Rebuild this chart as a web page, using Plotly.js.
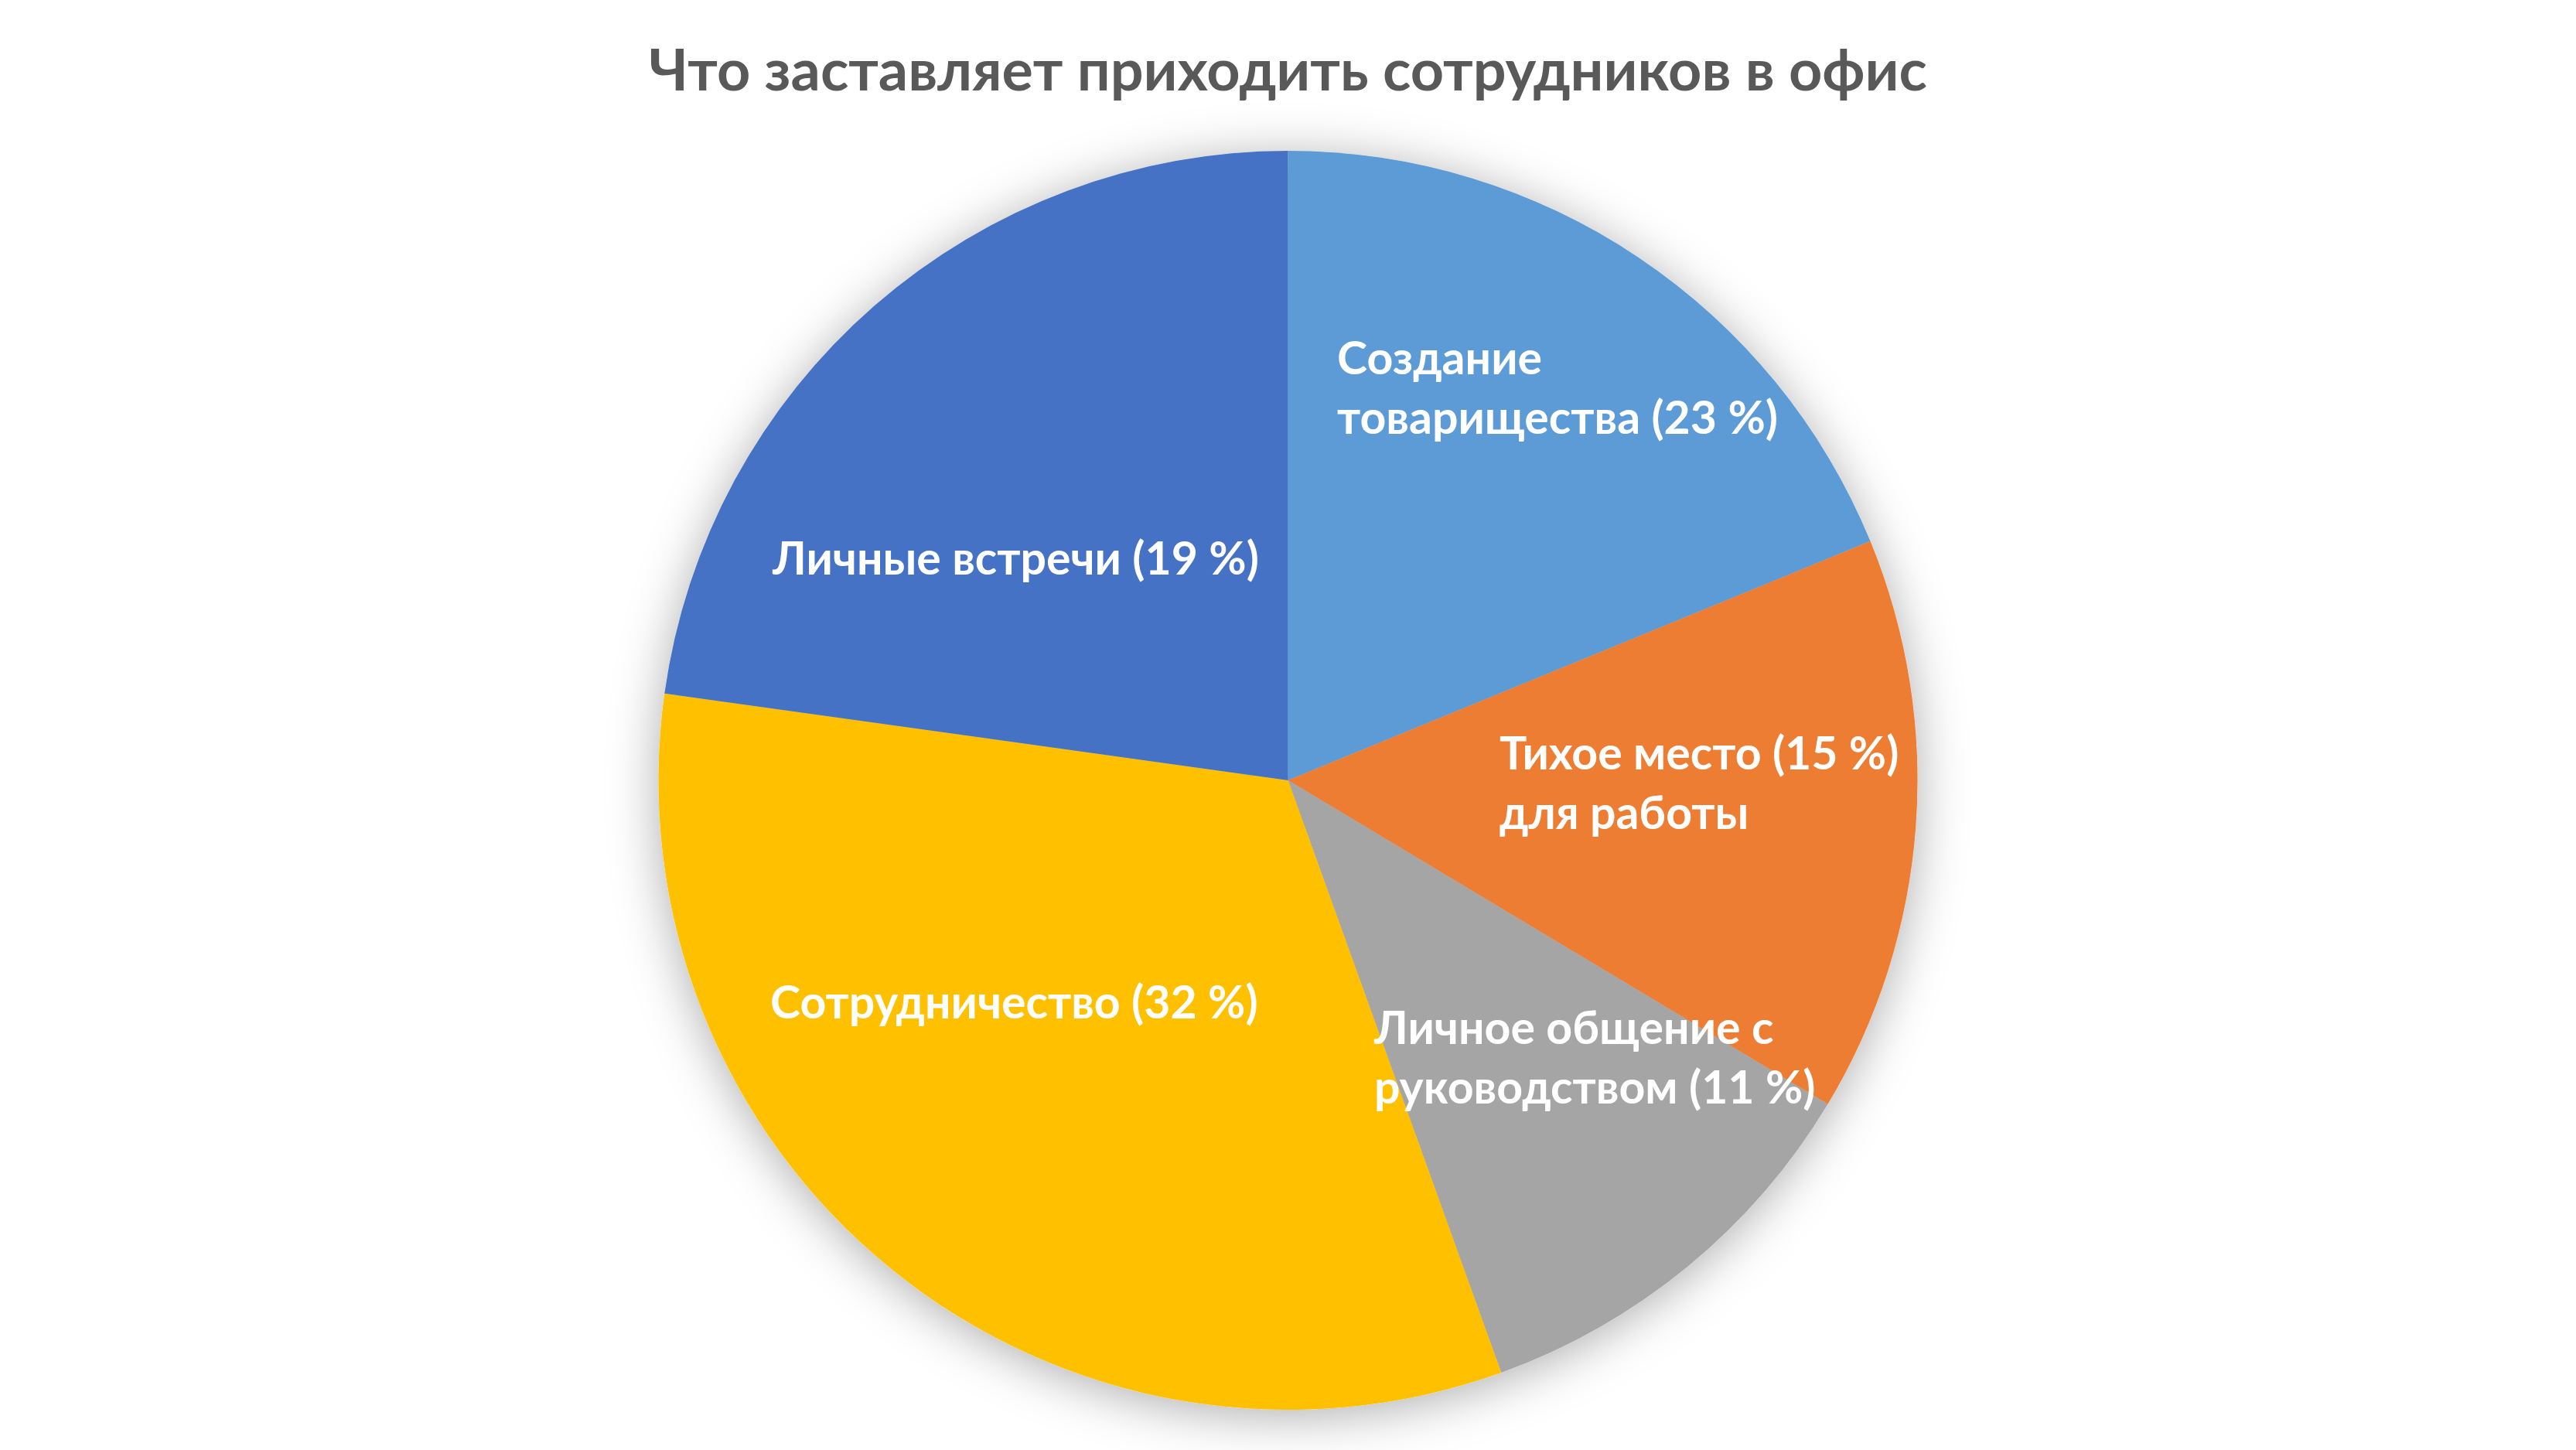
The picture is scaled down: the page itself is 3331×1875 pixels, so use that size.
<!DOCTYPE html>
<html>
<head>
<meta charset="utf-8">
<script src="https://cdn.plot.ly/plotly-3.0.1.min.js"></script>
<style>
html,body{margin:0;padding:0;background:#fff;}
#chart{width:3331px;height:1875px;}
</style>
</head>
<body>
<div id="chart"></div>
<script>
// ---- data ----
const categories = [
  "Создание товарищества",
  "Тихое место для работы",
  "Личное общение с руководством",
  "Сотрудничество",
  "Личные встречи"
];
const values = [18.8, 14.8, 10.9, 32.7, 22.8];
const labelTexts = [
  "Создание<br>товарищества (23 %)",
  "Тихое место (15 %)<br>для работы",
  "Личное общение с<br>руководством (11 %)",
  "Сотрудничество (32 %)",
  "Личные встречи (19 %)"
];
const colors = ["#5B9BD5", "#ED7D31", "#A5A5A5", "#FFC000", "#4472C4"];

// ---- layout helpers (pixel anchors for labels, left edge / vertical middle) ----
const W = 3331, H = 1875;
const M = {l: 0, r: 0, t: 195, b: 52};
const labelAnchors = [
  [1727, 500], [1937, 1011], [1774, 1366], [994, 1294], [996, 720]
];
const px2x = p => (p - M.l) / (W - M.l - M.r);
const py2y = p => 1 - (p - M.t) / (H - M.t - M.b);

const FONT = "Lato, 'Open Sans', sans-serif";

const trace = {
  type: "pie",
  labels: categories,
  values: values,
  sort: false,
  direction: "clockwise",
  rotation: 0,
  marker: {colors: colors, line: {width: 0}},
  textinfo: "none",
  hoverinfo: "label+percent",
  showlegend: false,
  domain: {x: [0, 1], y: [0, 1]}
};

const annotations = labelTexts.map((t, i) => ({
  text: t,
  xref: "paper", yref: "paper",
  x: px2x(labelAnchors[i][0]),
  y: py2y(labelAnchors[i][1]),
  xanchor: "left", yanchor: "middle",
  align: "left",
  showarrow: false,
  font: {family: FONT, size: 59, color: "#FFFFFF", weight: "bold"}
}));

const layout = {
  width: W, height: H,
  margin: M,
  paper_bgcolor: "#FFFFFF",
  plot_bgcolor: "#FFFFFF",
  title: {
    text: "<b>Что заставляет приходить сотрудников в офис</b>",
    font: {family: FONT, size: 75.5, color: "#595959"},
    x: 0.5, xanchor: "center",
    yref: "container", y: 1 - 91 / H, yanchor: "middle"
  },
  annotations: annotations
};

Plotly.newPlot("chart", [trace], layout, {displayModeBar: false, staticPlot: true}).then(() => {
  const svg = document.querySelector("#chart .main-svg");
  const NS = "http://www.w3.org/2000/svg";
  let defs = svg.querySelector("defs");
  if (!defs) { defs = document.createElementNS(NS, "defs"); svg.insertBefore(defs, svg.firstChild); }
  const f = document.createElementNS(NS, "filter");
  f.setAttribute("id", "pieShadow");
  f.setAttribute("x", "-20%"); f.setAttribute("y", "-20%");
  f.setAttribute("width", "140%"); f.setAttribute("height", "140%");
  f.innerHTML =
    '<feGaussianBlur in="SourceAlpha" stdDeviation="32" result="b"/>' +
    '<feOffset in="b" dx="0" dy="8" result="o"/>' +
    '<feFlood flood-color="#000" flood-opacity="0.32" result="c"/>' +
    '<feComposite in="c" in2="o" operator="in" result="s"/>' +
    '<feMerge><feMergeNode in="s"/><feMergeNode in="SourceGraphic"/></feMerge>';
  defs.appendChild(f);
  const pie = svg.querySelector(".pielayer .trace");
  if (pie) pie.setAttribute("filter", "url(#pieShadow)");
});
</script>
</body>
</html>
